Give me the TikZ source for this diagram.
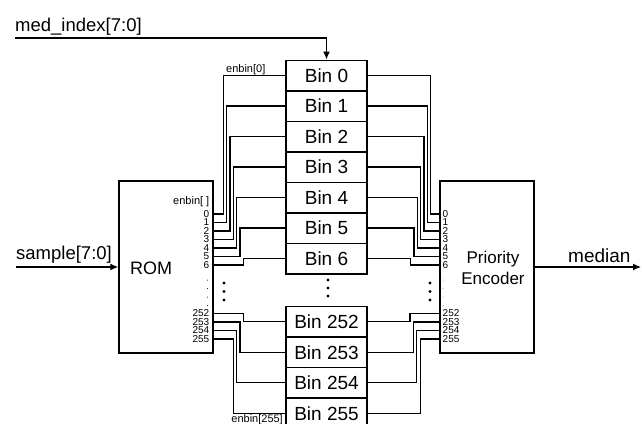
\documentclass[tikz,border=0pt]{standalone}
\usepackage{fontspec}
\setmainfont{Liberation Sans}
\usetikzlibrary{arrows.meta}
\tikzset{
  blk/.style={draw,line width=1.5pt,inner sep=0pt},
  binbox/.style={blk,minimum width=81pt,minimum height=30.5pt,font=\fontsize{19}{19}\selectfont},
  wire/.style={line width=1.2pt},
  pinlbl/.style={inner sep=0pt,font=\fontsize{10}{10}\selectfont},
  smalllbl/.style={inner sep=0pt,font=\fontsize{11}{11}\selectfont},
  sig/.style={line width=1.2pt,-{Latex[length=8pt,width=7pt]}},
}
\begin{document}
\begin{tikzpicture}[x=1pt,y=-1pt]
  \clip (0,0) rectangle (642,423);
  % rom and encoder
  \node[blk,minimum width=94pt,minimum height=172pt] (rom) at (166,267) {};
  \node[blk,minimum width=94pt,minimum height=172pt] (enc) at (487,267) {};
  \node[anchor=base west,inner sep=0pt,font=\fontsize{18}{18}\selectfont] (romlbl) at (130,274) {ROM};
  \node[align=center,inner sep=0pt,font=\fontsize{17}{21}\selectfont] (enclbl) at (493,268.4) {Priority\\Encoder};
  % bins
  \foreach \k in {0,...,6}
    \node[binbox] (bin\k) at (326.5,{75.5+30.5*\k}) {Bin \k};
  \foreach \k [count=\i from 0] in {252,...,255}
    \node[binbox] (bin\k) at (326.5,{321.75+30.5*\i}) {Bin \k};
  % upper wires
  \foreach \k in {0,...,6} {
    \coordinate (rp\k) at (213,{214+8.5*\k});
    \coordinate (ep\k) at (440,{214+8.5*\k});
    \node[pinlbl,anchor=east] (rn\k) at (209.5,{214+8.5*\k}) {\k};
    \node[pinlbl,anchor=west] (pn\k) at (442.5,{214+8.5*\k}) {\k};
    \draw[wire] (bin\k.west) -- ++({-62+3.35*\k},0) |- (rp\k);
    \draw[wire] (bin\k.east) -- ++({63-3.35*\k},0) |- (ep\k);
  }
  % lower wires
  \foreach \k [count=\i from 0] in {252,...,255} {
    \coordinate (rp\k) at (213,{313.5+8.5*\i});
    \coordinate (ep\k) at (440,{313.5+8.5*\i});
    \node[pinlbl,anchor=east] (rn\k) at (209.5,{313.5+8.5*\i}) {\k};
    \node[pinlbl,anchor=west] (pn\k) at (442.5,{313.5+8.5*\i}) {\k};
    \draw[wire] (bin\k.west) -- ++({-42-3.35*\i},0) |- (rp\k);
    \draw[wire] (bin\k.east) -- ++({42.3+3.35*\i},0) |- (ep\k);
  }
  \node[smalllbl,anchor=base east] (enlbl) at (209.5,204) {enbin[ ]};
  \node[smalllbl,anchor=base west] (en0lbl) at (226,72) {enbin[0]};
  \node[smalllbl,anchor=base east] (en255lbl) at (283,422) {enbin[255]};
  % dots
  \foreach \y in {283,291.5,300} {
    \fill (224,\y) circle (1.6pt);
    \fill (430,\y) circle (1.6pt);
  }
  \foreach \y in {280,288,296}
    \fill (328,\y) circle (1.6pt);
  \foreach \y in {280,288.5,297,305.5} {
    \fill (207.5,\y) circle (0.5pt);
    \fill[gray] (443,\y) circle (0.5pt);
  }
  % signals
  \coordinate (mi) at (15,38);
  \coordinate (smp) at (16,267);
  \coordinate (med) at (641,267);
  \draw[sig] (mi) -| (bin0.north);
  \draw[sig] (smp) -- (rom.west);
  \draw[sig] (enc.east) -- (med);
  \node[anchor=base west,inner sep=0pt,font=\fontsize{18.5}{18.5}\selectfont] (milbl) at (15,31) {med\_index[7:0]};
  \node[anchor=base west,inner sep=0pt,font=\fontsize{18.5}{18.5}\selectfont] (smplbl) at (16,259) {sample[7:0]};
  \node[anchor=base west,inner sep=0pt,font=\fontsize{19}{19}\selectfont] (medlbl) at (568,262) {median};
\end{tikzpicture}
\end{document}
